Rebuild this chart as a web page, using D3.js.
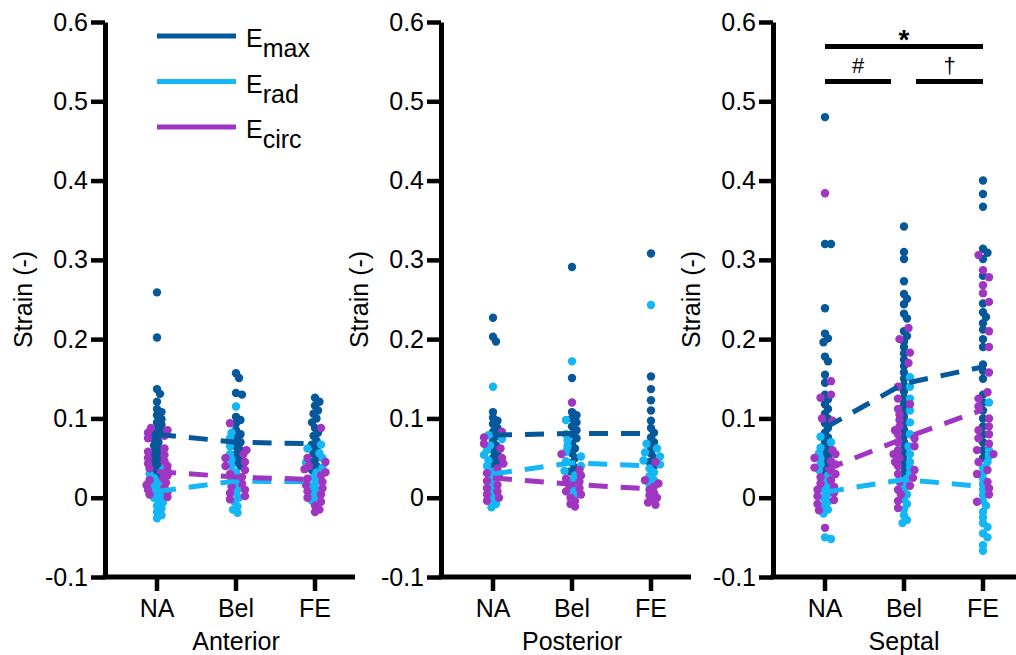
<!DOCTYPE html>
<html>
<head>
<meta charset="utf-8">
<script src="https://cdn.jsdelivr.net/npm/d3@7"></script>
<style>
  body { margin: 0; background: #fff; }
  text { font-family: Arial, "Liberation Sans", sans-serif; fill: #000; }
</style>
</head>
<body>
<div id="container"></div>
<script>
/* CONSTANTS AND GLOBALS */
const width = 1016,
  height = 655;

const regions = ["Anterior", "Posterior", "Septal"];
const categories = ["NA", "Bel", "FE"];
const seriesNames = ["max", "rad", "circ"];
const colors = ["#07589a", "#14b6f4", "#a035c2"];
const yTicks = [-0.1, 0, 0.1, 0.2, 0.3, 0.4, 0.5, 0.6];

// DOTS, ONE LIST PER CATEGORY (NA, Bel, FE)
const anteriorEmax = [
  [0.259, 0.202, 0.137, 0.131, 0.121, 0.112, 0.108, 0.104, 0.099, 0.095, 0.092, 0.088, 0.085, 0.082, 0.078, 0.074, 0.07, 0.066, 0.062, 0.058, 0.054, 0.05, 0.046, 0.042, 0.038, 0.034, 0.03],
  [0.157, 0.151, 0.132, 0.13, 0.102, 0.098, 0.094, 0.085, 0.08, 0.075, 0.07, 0.065, 0.06, 0.055, 0.05, 0.045, 0.04],
  [0.126, 0.121, 0.116, 0.11, 0.106, 0.1, 0.095, 0.088, 0.082, 0.078, 0.072, 0.067, 0.062, 0.056, 0.05, 0.045, 0.04, 0.035]
];
const anteriorErad = [
  [0.035, 0.03, 0.025, 0.02, 0.015, 0.012, 0.008, 0.005, 0.002, 0, -0.003, -0.006, -0.01, -0.014, -0.018, -0.022, -0.026],
  [0.115, 0.082, 0.075, 0.065, 0.055, 0.048, 0.04, 0.032, 0.025, 0.018, 0.012, 0.006, 0.0, -0.005, -0.011, -0.015, -0.019],
  [0.067, 0.062, 0.056, 0.05, 0.044, 0.038, 0.032, 0.026, 0.02, 0.015, 0.01, 0.005, 0.0, -0.004]
];
const anteriorEcirc = [
  [0.088, 0.085, 0.082, 0.078, 0.075, 0.062, 0.058, 0.054, 0.05, 0.046, 0.043, 0.04, 0.037, 0.034, 0.031, 0.028, 0.025, 0.022, 0.019, 0.016, 0.013, 0.01, 0.007, 0.004, 0.001],
  [0.094, 0.06, 0.055, 0.05, 0.045, 0.04, 0.035, 0.03, 0.026, 0.022, 0.018, 0.014, 0.01, 0.006, 0.002, -0.002],
  [0.088, 0.05, 0.045, 0.04, 0.036, 0.032, 0.028, 0.024, 0.02, 0.016, 0.012, 0.008, 0.004, 0.0, -0.005, -0.01, -0.015, -0.018]
];

const posteriorEmax = [
  [0.227, 0.203, 0.197, 0.108, 0.101, 0.097, 0.093, 0.088, 0.083, 0.078, 0.072, 0.066, 0.06, 0.055, 0.05, 0.045, 0.04],
  [0.291, 0.151, 0.108, 0.104, 0.1, 0.095, 0.09, 0.085, 0.08, 0.075, 0.068, 0.062, 0.056, 0.05, 0.044, 0.038, 0.033],
  [0.308, 0.153, 0.137, 0.123, 0.11, 0.097, 0.088, 0.082, 0.076, 0.07, 0.063, 0.056, 0.05, 0.045, 0.04]
];
const posteriorErad = [
  [0.14, 0.079, 0.074, 0.066, 0.06, 0.054, 0.047, 0.04, 0.033, 0.026, 0.019, 0.012, 0.005, -0.002, -0.008, -0.012],
  [0.172, 0.098, 0.08, 0.072, 0.065, 0.058, 0.052, 0.046, 0.04, 0.034, 0.028, 0.022, 0.016, 0.01, 0.004],
  [0.243, 0.068, 0.062, 0.057, 0.052, 0.047, 0.042, 0.037, 0.032, 0.027, 0.022, 0.017]
];
const posteriorEcirc = [
  [0.083, 0.076, 0.068, 0.062, 0.05, 0.043, 0.037, 0.031, 0.026, 0.021, 0.016, 0.012, 0.008, 0.004, 0.0, -0.004],
  [0.12, 0.055, 0.035, 0.028, 0.024, 0.02, 0.016, 0.012, 0.008, 0.004, 0.0, -0.004, -0.008, -0.011],
  [0.045, 0.022, 0.018, 0.014, 0.01, 0.006, 0.003, 0.0, -0.003, -0.006, -0.009]
];

const septalEmax = [
  [0.48, 0.32, 0.32, 0.239, 0.207, 0.201, 0.196, 0.178, 0.172, 0.155, 0.145, 0.13, 0.124, 0.118, 0.112, 0.106, 0.1, 0.094, 0.088, 0.082, 0.076, 0.07, 0.064, 0.058, 0.052, 0.046, 0.04, 0.034],
  [0.342, 0.31, 0.301, 0.273, 0.257, 0.251, 0.244, 0.232, 0.226, 0.21, 0.204, 0.197, 0.19, 0.182, 0.174, 0.166, 0.158, 0.15, 0.142, 0.134, 0.126, 0.118, 0.11, 0.102, 0.094, 0.086, 0.078, 0.07, 0.062, 0.054, 0.046, 0.038, 0.03],
  [0.4, 0.383, 0.367, 0.314, 0.309, 0.301, 0.28, 0.245, 0.234, 0.228, 0.22, 0.212, 0.2, 0.19, 0.168, 0.16, 0.15, 0.13, 0.12, 0.11, 0.1, 0.09, 0.08, 0.07, 0.06, 0.05]
];
const septalErad = [
  [0.077, 0.07, 0.063, 0.056, 0.049, 0.042, 0.035, 0.028, 0.021, 0.015, 0.01, 0.005, 0.0, -0.005, -0.01, -0.015, -0.02, -0.05, -0.052],
  [0.152, 0.14, 0.125, 0.11, 0.095, 0.08, 0.065, 0.055, 0.045, 0.038, 0.031, 0.024, 0.017, 0.01, 0.004, -0.002, -0.008, -0.015, -0.022, -0.028, -0.032],
  [0.12, 0.06, 0.052, 0.045, 0.038, 0.031, 0.024, 0.017, 0.01, 0.003, -0.004, -0.01, -0.018, -0.025, -0.032, -0.037, -0.045, -0.05, -0.06, -0.067]
];
const septalEcirc = [
  [0.384, 0.147, 0.13, 0.126, 0.1, 0.097, 0.06, 0.055, 0.05, 0.046, 0.042, 0.038, 0.034, 0.03, 0.026, 0.022, 0.018, 0.014, 0.01, 0.006, 0.002, -0.003, -0.008, -0.016, -0.038],
  [0.214, 0.2, 0.183, 0.17, 0.14, 0.125, 0.118, 0.112, 0.105, 0.098, 0.09, 0.085, 0.08, 0.075, 0.07, 0.065, 0.06, 0.055, 0.05, 0.045, 0.04, 0.035, 0.03, 0.025, 0.02, 0.015, 0.01, 0.004, -0.004, -0.013],
  [0.306, 0.287, 0.278, 0.268, 0.258, 0.247, 0.21, 0.19, 0.158, 0.133, 0.125, 0.115, 0.1, 0.09, 0.085, 0.08, 0.075, 0.068, 0.06, 0.055, 0.045, 0.035, 0.03, 0.02, 0.012, 0.004, -0.005]
];

// MEANS (DASHED LINES), [NA, Bel, FE]
const anteriorMeans = [[0.08, 0.07, 0.068], [0.008, 0.021, 0.02], [0.033, 0.026, 0.023]];
const posteriorMeans = [[0.079, 0.081, 0.081], [0.03, 0.044, 0.04], [0.025, 0.017, 0.011]];
const septalMeans = [[0.088, 0.144, 0.165], [0.007, 0.023, 0.014], [0.035, 0.075, 0.111]];

// SIGNIFICANCE BARS (SEPTAL)
const sigLabels = ["*", "#", "\u2020"];
const sigLevels = [0.569, 0.525, 0.525];

const panelDots = [
  [anteriorEmax, anteriorErad, anteriorEcirc],
  [posteriorEmax, posteriorErad, posteriorEcirc],
  [septalEmax, septalErad, septalEcirc]
];
const panelMeans = [anteriorMeans, posteriorMeans, septalMeans];
const panelLeft = [105, 441, 773];

// APPEND SVG
const svg = d3.select("#container")
  .append("svg")
  .attr("width", width)
  .attr("height", height)
  .style("background", "#fff");

const y = d3.scaleLinear().domain([-0.1, 0.6]).range([577, 22]);

// simple column swarm so dots spread sideways where they pile up
function swarm(dots, cx) {
  const placed = [];
  const offsets = [0];
  for (let k = 1.5; k <= 10.5; k += 1.5) offsets.push(k, -k);
  dots.forEach(d => {
    const py = y(d.v);
    let best = 0, bestGap = -1;
    for (const o of offsets) {
      let gap = Infinity;
      placed.forEach(p => {
        const dist = Math.hypot(p.x - (cx + o), p.y - py);
        if (dist < gap) gap = dist;
      });
      if (gap >= 5) { best = o; bestGap = gap; break; }
      if (gap > bestGap) { bestGap = gap; best = o; }
    }
    d.x = cx + best;
    d.y = py;
    placed.push(d);
  });
  return dots;
}

regions.forEach((region, p) => {
  const x0 = panelLeft[p];
  const x = d3.scalePoint().domain(categories).range([x0 + 52, x0 + 210]);
  const g = svg.append("g");

  // DOTS
  categories.forEach((cat, c) => {
    let dots = [];
    panelDots[p].forEach((series, s) => {
      series[c].forEach(v => dots.push({ v, s }));
    });
    swarm(dots, x(cat));
    g.selectAll(null)
      .data(dots)
      .join("circle")
      .attr("cx", d => d.x)
      .attr("cy", d => d.y)
      .attr("r", 4.2)
      .attr("fill", d => colors[d.s]);
  });

  // MEAN LINES
  const line = d3.line().x((d, i) => x(categories[i])).y(d => y(d));
  g.selectAll("path.mean")
    .data(panelMeans[p])
    .join("path")
    .attr("class", "mean")
    .attr("d", d => line(d))
    .attr("fill", "none")
    .attr("stroke", (d, i) => colors[i])
    .attr("stroke-width", 5)
    .attr("stroke-dasharray", "19,13");

  // Y AXIS
  const yAxis = g.append("g")
    .attr("transform", `translate(${x0},0)`)
    .call(d3.axisLeft(y).tickValues(yTicks).tickSize(14).tickSizeOuter(0).tickPadding(3)
      .tickFormat(d => d === 0 ? "0" : d.toFixed(1)));
  yAxis.select(".domain").attr("stroke-width", 5);
  yAxis.selectAll(".tick line").attr("stroke-width", 4.5);
  yAxis.selectAll(".tick text").style("font-size", "25px").attr("fill", "#000");

  // X AXIS
  g.append("line")
    .attr("x1", x0 - 2.5).attr("x2", x0 + 250)
    .attr("y1", y(-0.1)).attr("y2", y(-0.1))
    .attr("stroke", "#000").attr("stroke-width", 5);
  const xt = g.selectAll("g.xtick")
    .data(categories)
    .join("g")
    .attr("class", "xtick")
    .attr("transform", d => `translate(${x(d)},${y(-0.1)})`);
  xt.append("line").attr("y2", 14).attr("stroke", "#000").attr("stroke-width", 4.5);
  xt.append("text")
    .attr("y", 40)
    .attr("text-anchor", "middle")
    .style("font-size", "25px")
    .text(d => d);

  g.append("text")
    .attr("x", x("Bel"))
    .attr("y", 650)
    .attr("text-anchor", "middle")
    .style("font-size", "25px")
    .text(region);

  g.append("text")
    .attr("transform", `translate(${x0 - 73},${y(0.25)}) rotate(-90)`)
    .attr("text-anchor", "middle")
    .style("font-size", "25px")
    .text("Strain (-)");

  // LEGEND (FIRST PANEL)
  if (p === 0) {
    seriesNames.forEach((name, i) => {
      const ly = 36 + i * 45.5;
      g.append("line")
        .attr("x1", x("NA")).attr("x2", x("Bel"))
        .attr("y1", ly).attr("y2", ly)
        .attr("stroke", colors[i]).attr("stroke-width", 5);
      const t = g.append("text")
        .attr("x", x("Bel") + 10)
        .attr("y", ly + 11)
        .style("font-size", "25px");
      t.append("tspan").text("E");
      t.append("tspan").attr("dy", 10).style("font-size", "25px").text(name);
    });
  }

  // SIGNIFICANCE (SEPTAL)
  if (p === 2) {
    const bars = [
      [x("NA"), x("FE")],
      [x("NA"), x("Bel") - 13],
      [x("Bel") + 12, x("FE")]
    ];
    bars.forEach((b, i) => {
      g.append("line")
        .attr("x1", b[0]).attr("x2", b[1])
        .attr("y1", y(sigLevels[i])).attr("y2", y(sigLevels[i]))
        .attr("stroke", "#000").attr("stroke-width", 5);
      g.append("text")
        .attr("x", (b[0] + b[1]) / 2)
        .attr("y", y(sigLevels[i]) - (i === 0 ? -2 : 8))
        .attr("text-anchor", "middle")
        .style("font-size", i === 0 ? "28px" : "22px")
        .style("font-weight", i === 0 ? "bold" : "normal")
        .text(sigLabels[i]);
    });
  }
});
</script>
</body>
</html>
